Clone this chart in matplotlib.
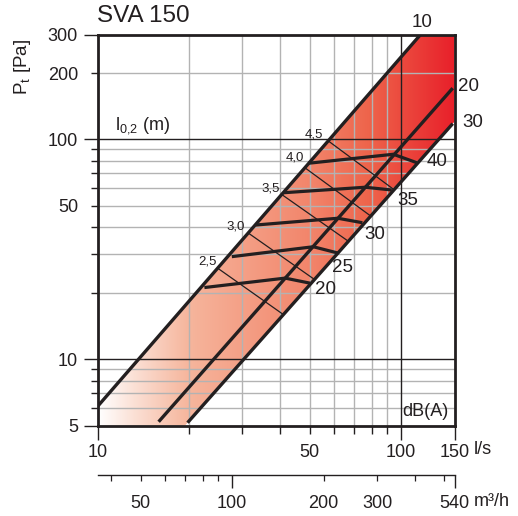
import numpy as np
import matplotlib
matplotlib.use("Agg")
import matplotlib.pyplot as plt
from matplotlib.patches import Polygon
from matplotlib.colors import LinearSegmentedColormap
from matplotlib.ticker import FixedLocator, FixedFormatter

plt.rcParams['font.family'] = ['Liberation Sans', 'DejaVu Sans']
plt.rcParams['mathtext.default'] = 'regular'

INK = '#231f20'
GRID = '#b3b3b3'

# ---------------- data ----------------
title = "SVA 150"
xlim = (10, 150)          # l/s
ylim = (5, 300)           # Pa

# main characteristic lines (damper setting)
curve_labels = ['10', '20', '30']
curve10_q = [10, 116];   curve10_p = [6.1, 300]
curve20_q = [15.9, 148]; curve20_p = [5.2, 171]
curve30_q = [19.8, 148]; curve30_p = [5.15, 118]

# sound level lines dB(A)
db_labels = ['20', '25', '30', '35', '40']
db_q = [[22.5, 41.5, 50.1], [27.7, 51.4, 62.1], [33.2, 61.9, 74.6],
        [40.9, 76.1, 93.2], [49.5, 94.3, 112.6]]
db_p = [[21.2, 23.4, 22.2], [29.3, 32.5, 30.4], [40.8, 43.8, 41.8],
        [57.2, 60.6, 58.9], [77.9, 85.6, 78.4]]

# throw lines l0,2 (m)
throw_labels = ['2,5', '3,0', '3,5', '4,0', '4,5']
throw_q = [[24.95, 40.9], [31.4, 51.8], [40.5, 67.1], [48.3, 79.5], [57.6, 94.8]]
throw_p = [[25.9, 16.0], [37.5, 23.1], [56.1, 34.4], [74.2, 44.8], [98.4, 59.1]]

# axis ticks
x_major = [10, 100, 150]; x_major_lbl = ['10', '100', '150']
x_minor = [20, 30, 40, 50, 60, 70, 80, 90]
x_minor_lbl = ['', '', '', '50', '', '', '', '']
y_major = [5, 10, 100, 300]; y_major_lbl = ['5', '10', '100', '300']
y_minor = [6, 7, 8, 9, 20, 30, 40, 50, 60, 70, 80, 90, 200]
y_minor_lbl = ['', '', '', '', '', '', '', '50', '', '', '', '', '200']
m3_major = [100, 540]; m3_major_lbl = ['100', '540']
m3_minor = [40, 50, 60, 70, 80, 90, 200, 300, 400, 500]
m3_minor_lbl = ['', '50', '', '', '', '', '200', '300', '', '']
grid_x_gray = [20, 30, 40, 50, 60, 70, 80, 90]; grid_x_black = [100]
grid_y_gray = [6, 7, 8, 9, 20, 30, 40, 50, 60, 70, 80, 90, 200]; grid_y_black = [10, 100]

FS = 13

# ---------------- figure ----------------
fig = plt.figure(figsize=(5.18, 5.16), dpi=100)
ax = fig.add_axes([97.5/518, 1-425.5/516, 357/518, 391/516])

# gradient fill between curve 10 and curve 30
cmap = LinearSegmentedColormap.from_list('g', [
    (0.0, '#ffffff'), (0.1, '#fbe0d5'), (0.25, '#f6b69d'),
    (0.6, '#f2846a'), (0.76, '#ee644b'), (1.0, '#e8202a')])
grad = np.linspace(0, 1, 512).reshape(1, -1)
im = ax.imshow(grad, extent=[0, 1, 0, 1], transform=ax.transAxes,
               aspect='auto', cmap=cmap, zorder=0.5, interpolation='bilinear')

ax.set_xscale('log'); ax.set_yscale('log')
ax.set_xlim(*xlim); ax.set_ylim(*ylim)

def loglin(q, p, x):
    lq, lp = np.log10(q), np.log10(p)
    s = (lp[1]-lp[0])/(lq[1]-lq[0])
    return 10**(lp[0] + s*(np.log10(x)-lq[0]))

def loginv(q, p, y):
    lq, lp = np.log10(q), np.log10(p)
    s = (lp[1]-lp[0])/(lq[1]-lq[0])
    return 10**(lq[0] + (np.log10(y)-lp[0])/s)

verts = [(xlim[0], ylim[0]), (xlim[0], loglin(curve10_q, curve10_p, xlim[0])),
         (loginv(curve10_q, curve10_p, ylim[1]), ylim[1]), (xlim[1], ylim[1]),
         (xlim[1], loglin(curve30_q, curve30_p, xlim[1])),
         (loginv(curve30_q, curve30_p, ylim[0]), ylim[0])]
poly = Polygon(verts, closed=True, facecolor='none', edgecolor='none',
               transform=ax.transData)
ax.add_patch(poly)
im.set_clip_path(poly)

# grid
for v in grid_x_gray:
    ax.axvline(v, color=GRID, lw=1.0, zorder=1)
for v in grid_x_black:
    ax.axvline(v, color=INK, lw=1.0, zorder=1.1)
for v in grid_y_gray:
    ax.axhline(v, color=GRID, lw=1.0, zorder=1)
for v in grid_y_black:
    ax.axhline(v, color=INK, lw=1.0, zorder=1.1)

# throw lines
for q, p, lab in zip(throw_q, throw_p, throw_labels):
    ax.plot(q, p, color=INK, lw=0.9, zorder=2, solid_capstyle='butt')
throw_off = [(-11, 6.5), (-12.8, 6.6), (-11.7, 6.2), (-10.5, 10.9), (-14.3, 6)]
for q, p, lab, off in zip(throw_q, throw_p, throw_labels, throw_off):
    ax.annotate(lab, (q[0], p[0]), xytext=off, textcoords='offset pixels',
                ha='center', va='center', fontsize=9.5, color=INK, zorder=5)

# dB lines
for q, p in zip(db_q, db_p):
    ax.plot(q, p, color=INK, lw=2.3, zorder=3, solid_capstyle='butt',
            solid_joinstyle='miter')
db_off = [(16, -6.7), (4.7, -14.2), (12.7, -11.8), (16.3, -10.5), (20.3, 1.2)]
for q, p, lab, off in zip(db_q, db_p, db_labels, db_off):
    ax.annotate(lab, (q[-1], p[-1]), xytext=off, textcoords='offset pixels',
                ha='center', va='center', fontsize=FS + 0.5, color=INK, zorder=5,
                annotation_clip=False)

# main curves
curves = [(curve10_q, curve10_p), (curve20_q, curve20_p), (curve30_q, curve30_p)]
for q, p in curves:
    ax.plot(q, p, color=INK, lw=2.4, zorder=4, solid_capstyle='butt')
curve_off = [(1, 12), (15.3, 1.3), (20.3, 1.3)]
for (q, p), lab, off in zip(curves, curve_labels, curve_off):
    ax.annotate(lab, (q[-1], p[-1]), xytext=off, textcoords='offset pixels',
                ha='center', va='center', fontsize=FS + 0.5, color=INK,
                annotation_clip=False)

# spines
for s in ax.spines.values():
    s.set_linewidth(2.0); s.set_color(INK); s.set_zorder(6)

# ticks
ax.xaxis.set_major_locator(FixedLocator(x_major))
ax.xaxis.set_major_formatter(FixedFormatter(x_major_lbl))
ax.xaxis.set_minor_locator(FixedLocator(x_minor))
ax.xaxis.set_minor_formatter(FixedFormatter(x_minor_lbl))
ax.yaxis.set_major_locator(FixedLocator(y_major))
ax.yaxis.set_major_formatter(FixedFormatter(y_major_lbl))
ax.yaxis.set_minor_locator(FixedLocator(y_minor))
ax.yaxis.set_minor_formatter(FixedFormatter(y_minor_lbl))
ax.tick_params(axis='x', which='major', length=10.4, width=1.0, pad=3,
               labelsize=FS, colors=INK)
ax.tick_params(axis='x', which='minor', length=5.4, width=1.0, pad=8,
               labelsize=FS, colors=INK)
ax.tick_params(axis='y', which='major', length=10, width=1.0, pad=4,
               labelsize=FS, colors=INK)
ax.tick_params(axis='y', which='minor', length=5, width=1.0, pad=9,
               labelsize=FS, colors=INK)

# secondary axis in m3/h
secax = ax.secondary_xaxis(-0.1266, functions=(lambda q: q*3.6, lambda q: q/3.6))
secax.xaxis.set_major_locator(FixedLocator(m3_major))
secax.xaxis.set_major_formatter(FixedFormatter(m3_major_lbl))
secax.xaxis.set_minor_locator(FixedLocator(m3_minor))
secax.xaxis.set_minor_formatter(FixedFormatter(m3_minor_lbl))
secax.spines['bottom'].set_linewidth(1.0)
secax.spines['bottom'].set_color(INK)
secax.tick_params(axis='x', which='major', length=9.4, width=1.0, pad=5,
                  labelsize=FS, colors=INK)
secax.tick_params(axis='x', which='minor', length=4.6, width=0.9, pad=10,
                  labelsize=FS, colors=INK)

# texts
fig.text(97/518, 1-16/516, title, ha='left', va='center', fontsize=17.5, color=INK)
ax.annotate(r'$P_t$ [Pa]', (0, 1), xycoords='axes fraction', xytext=(-75, -32),
            textcoords='offset pixels', rotation=90, ha='center', va='center',
            fontsize=FS + 0.5, color=INK, annotation_clip=False)
ax.text(0.049, 0.768, r'$l_{0{,}2}$ (m)', transform=ax.transAxes, ha='left',
        va='center', fontsize=FS, color=INK)
ax.text(0.982, 0.037, 'dB(A)', transform=ax.transAxes, ha='right',
        va='center', fontsize=FS, color=INK, zorder=7)
ax.annotate('l/s', (1, 0), xycoords='axes fraction', xytext=(19, -24.5),
            textcoords='offset pixels', ha='left', va='center', fontsize=FS,
            color=INK, annotation_clip=False)
ax.annotate('m³/h', (1, 0), xycoords='axes fraction', xytext=(19, -75.5),
            textcoords='offset pixels', ha='left', va='center', fontsize=FS,
            color=INK, annotation_clip=False)

fig.savefig('out.png', dpi=100)
